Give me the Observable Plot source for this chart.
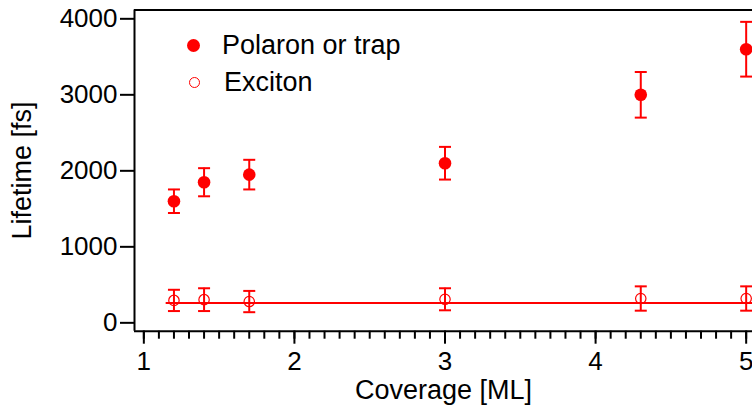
<!DOCTYPE html>
<html>
<head>
<meta charset="utf-8">
<script src="https://cdn.jsdelivr.net/npm/d3@7"></script>
<script src="https://cdn.jsdelivr.net/npm/@observablehq/plot@0.6"></script>
<style>
  html, body { margin: 0; padding: 0; background: #fff; }
  #wrap { position: relative; width: 752px; height: 414px; overflow: hidden; font-family: "Liberation Sans", Arial, sans-serif; }
  .leg { position: absolute; font-size: 27px; color: #000; display: flex; align-items: center; white-space: nowrap; }
  .sym { display: inline-block; box-sizing: border-box; border-radius: 50%; }
</style>
</head>
<body>
<div id="wrap"></div>
<script>
// Data
const coverage   = [1.2, 1.4, 1.7, 3.0, 4.3, 5.0];
const polaron    = [1600, 1850, 1950, 2100, 3000, 3600];
const polaronErr = [155, 185, 195, 215, 300, 360];
const exciton    = [295, 305, 280, 310, 320, 320];
const excitonErr = [140, 150, 140, 145, 160, 160];
const fitLevel   = 260;
const fitRange   = [1.15, 5.05];
const xTicks     = [1, 2, 3, 4, 5];
const xMinorTicks = d3.ticks(1, 5, 40);
const yTicks     = [0, 1000, 2000, 3000, 4000];
const xDomain    = [0.938, 5.042];
const yDomain    = [-110, 4116];
const seriesNames = ["Polaron or trap", "Exciton"];

const red = "#ff0000";
const pol = coverage.map((x, i) => ({x, y: polaron[i], lo: polaron[i] - polaronErr[i], hi: polaron[i] + polaronErr[i]}));
const exc = coverage.map((x, i) => ({x, y: exciton[i], lo: exciton[i] - excitonErr[i], hi: exciton[i] + excitonErr[i]}));
const fit = fitRange.map(x => ({x, y: fitLevel}));

const cap = { draw(ctx) { ctx.moveTo(-6, 0); ctx.lineTo(6, 0); } };
const fmt = d => String(d);

const chart = Plot.plot({
  width: 752, height: 414,
  marginLeft: 134, marginRight: 0, marginTop: 9.5, marginBottom: 83.3,
  style: { fontFamily: "'Liberation Sans', Arial, sans-serif", background: "#fff", color: "#000", overflow: "visible" },
  x: { domain: xDomain },
  y: { domain: yDomain },
  marks: [
    Plot.axisX(xMinorTicks, { tickSize: 8, strokeWidth: 2, text: null, label: null }),
    Plot.axisX(xTicks, { tickSize: 13, strokeWidth: 2, tickPadding: 7, fontSize: 26, tickFormat: fmt, label: null }),
    Plot.axisY(yTicks, { tickSize: 14, strokeWidth: 2, tickPadding: 3, fontSize: 26, tickFormat: fmt, label: null }),
    Plot.ruleX([xDomain[0]], { stroke: "#000", strokeWidth: 2 }),
    Plot.ruleY([yDomain[0]], { stroke: "#000", strokeWidth: 2 }),
    Plot.ruleY([yDomain[1]], { stroke: "#000", strokeWidth: 2 }),
    Plot.line(fit, { x: "x", y: "y", stroke: red, strokeWidth: 2 }),
    Plot.ruleX(pol, { x: "x", y1: "lo", y2: "hi", stroke: red, strokeWidth: 2 }),
    Plot.dot(pol, { x: "x", y: "lo", symbol: cap, stroke: red, strokeWidth: 2, fill: "none" }),
    Plot.dot(pol, { x: "x", y: "hi", symbol: cap, stroke: red, strokeWidth: 2, fill: "none" }),
    Plot.dot(pol, { x: "x", y: "y", r: 6.3, fill: red, stroke: "none" }),
    Plot.ruleX(exc, { x: "x", y1: "lo", y2: "hi", stroke: red, strokeWidth: 2 }),
    Plot.dot(exc, { x: "x", y: "lo", symbol: cap, stroke: red, strokeWidth: 2, fill: "none" }),
    Plot.dot(exc, { x: "x", y: "hi", symbol: cap, stroke: red, strokeWidth: 2, fill: "none" }),
    Plot.dot(exc, { x: "x", y: "y", r: 5.2, fill: "none", stroke: red, strokeWidth: 1.2 }),
    Plot.text(["Lifetime [fs]"], { frameAnchor: "left", textAnchor: "middle", rotate: -90, dx: -112, fontSize: 27, text: d => d }),
    Plot.text(["Coverage [ML]"], { frameAnchor: "bottom", dy: 68, fontSize: 27, text: d => d })
  ]
});

const wrap = document.getElementById("wrap");
wrap.appendChild(chart);

function legendItem(label, top, left, symStyle) {
  const d = document.createElement("div");
  d.className = "leg";
  d.style.top = top + "px";
  d.style.left = left + "px";
  const s = document.createElement("span");
  s.className = "sym";
  Object.assign(s.style, symStyle);
  const t = document.createElement("span");
  t.textContent = label;
  d.appendChild(s);
  d.appendChild(t);
  wrap.appendChild(d);
}
legendItem(seriesNames[0], 30, 187, { width: "13px", height: "13px", background: red, marginRight: "22px" });
legendItem(seriesNames[1], 67, 189, { width: "11px", height: "11px", border: "1.2px solid " + red, marginRight: "24px" });
</script>
</body>
</html>
